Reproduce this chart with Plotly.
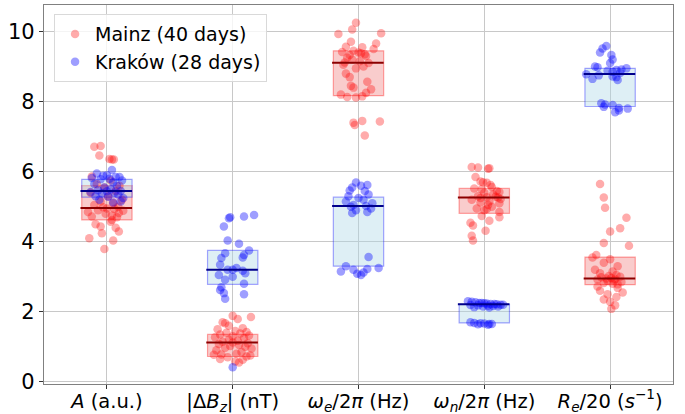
import plotly.graph_objects as go

categories = ["<i>A</i> (a.u.)", "|Δ<i>B<sub>z</sub></i>| (nT)", "<i>ω<sub>e</sub></i>/2<i>π</i> (Hz)",
              "<i>ω<sub>n</sub></i>/2<i>π</i> (Hz)", "<i>R<sub>e</sub></i>/20 (<i>s</i><sup>−1</sup>)"]
y_ticks = [0, 2, 4, 6, 8, 10]

# --- Mainz (40 days) values per category ---
mainz_A = [6.71, 6.73, 6.46, 6.36, 6.35, 6.35, 5.86, 5.75, 5.65, 5.6, 5.55, 5.45, 5.4, 5.3, 5.2, 5.15, 5.1, 5.05, 5.0, 4.98,
           4.95, 4.93, 4.9, 4.88, 4.85, 4.82, 4.8, 4.75, 4.72, 4.7, 4.62, 4.57, 4.5, 4.43, 4.4, 4.29, 4.24, 4.1, 4.03, 3.79]
mainz_dBz = [1.88, 1.85, 1.79, 1.7, 1.67, 1.6, 1.53, 1.5, 1.45, 1.42, 1.4, 1.38, 1.35, 1.32, 1.3, 1.27, 1.25, 1.2, 1.17, 1.14,
             1.12, 1.1, 1.08, 1.05, 1.02, 1.0, 0.97, 0.95, 0.9, 0.85, 0.8, 0.78, 0.77, 0.75, 0.72, 0.7, 0.65, 0.63, 0.58, 0.55]
mainz_we = [10.25, 10.06, 9.95, 9.93, 9.71, 9.66, 9.57, 9.55, 9.5, 9.45, 9.42, 9.4, 9.38, 9.35, 9.33, 9.3, 9.25, 9.2, 9.15, 9.12,
            9.1, 9.05, 9.0, 8.95, 8.8, 8.7, 8.57, 8.45, 8.4, 8.35, 8.25, 8.2, 8.15, 8.13, 8.12, 7.45, 7.43, 7.4, 7.33, 7.03]
mainz_wn = [6.13, 6.12, 6.1, 6.08, 5.85, 5.72, 5.7, 5.68, 5.62, 5.56, 5.52, 5.5, 5.45, 5.42, 5.4, 5.35, 5.3, 5.28, 5.27, 5.26,
            5.25, 5.22, 5.2, 5.15, 5.12, 5.1, 5.05, 5.0, 4.95, 4.93, 4.9, 4.85, 4.73, 4.7, 4.6, 4.54, 4.46, 4.31, 4.17, 4.03]
mainz_Re = [5.65, 5.26, 4.97, 4.68, 4.38, 4.29, 3.96, 3.88, 3.62, 3.55, 3.5, 3.4, 3.3, 3.2, 3.15, 3.1, 3.05, 3.02, 3.0, 2.98,
            2.96, 2.95, 2.93, 2.92, 2.9, 2.88, 2.85, 2.82, 2.8, 2.78, 2.72, 2.68, 2.6, 2.55, 2.5, 2.42, 2.35, 2.28, 2.18, 2.08]

# horizontal jitter (category units)
mainz_A_jit = [-0.10, -0.05, -0.06, 0.02, 0.04, 0.055, -0.12, 0.03, -0.08, 0.10, -0.02, 0.07, -0.13, 0.01, 0.12, -0.05, 0.05, -0.10, 0.09, -0.03,
               0.0, 0.06, -0.07, 0.13, -0.15, 0.095, -0.01, 0.04, -0.12, 0.08, 0.04, 0.03, -0.09, -0.05, 0.07, 0.095, -0.04, -0.14, 0.05, -0.02]
mainz_dBz_jit = [0.0, 0.145, 0.04, -0.08, -0.06, -0.03, 0.08, -0.12, 0.02, 0.11, -0.05, 0.06, -0.10, 0.13, 0.0, -0.14, 0.09, -0.03, 0.04, -0.08,
                 0.0, 0.12, -0.11, 0.05, -0.02, 0.1, -0.06, 0.15, -0.13, 0.07, 0.03, -0.09, -0.15, 0.14, 0.11, -0.04, -0.1, 0.08, 0.02, 0.05]
mainz_we_jit = [-0.02, -0.05, 0.18, -0.16, -0.06, 0.14, -0.1, 0.03, 0.12, -0.04, -0.13, 0.0, 0.02, 0.05, -0.07, 0.06, -0.09, -0.05, 0.01, -0.11,
                0.08, -0.12, 0.04, -0.02, -0.1, -0.07, 0.07, -0.06, -0.04, 0.1, 0.06, -0.14, 0.03, -0.09, -0.02, 0.03, 0.17, -0.04, -0.03, 0.05]
mainz_wn_jit = [-0.1, -0.05, 0.04, 0.03, -0.07, -0.03, -0.01, 0.02, 0.05, 0.06, -0.08, -0.02, 0.1, 0.12, 0.0, 0.07, -0.05, 0.09, 0.02, 0.11,
                -0.03, 0.13, -0.1, 0.04, -0.03, 0.12, 0.03, 0.06, -0.06, 0.02, 0.0, 0.12, -0.02, 0.12, 0.04, -0.11, -0.09, 0.01, -0.1, -0.09]
mainz_Re_jit = [-0.08, -0.05, -0.04, 0.13, 0.08, 0.0, -0.05, 0.15, -0.11, -0.14, 0.0, -0.05, 0.06, -0.12, 0.02, -0.08, 0.05, -0.01, 0.08, -0.07,
                0.01, -0.03, 0.04, -0.1, 0.03, -0.02, 0.09, -0.05, 0.02, 0.06, -0.1, 0.06, -0.08, 0.1, -0.02, 0.05, -0.05, 0.0, 0.04, 0.01]

# --- Kraków (28 days) values per category ---
krakow_A = [6.05, 5.95, 5.9, 5.88, 5.85, 5.85, 5.82, 5.8, 5.78, 5.75, 5.7, 5.65, 5.6, 5.55,
            5.5, 5.47, 5.45, 5.44, 5.42, 5.4, 5.38, 5.35, 5.3, 5.28, 5.25, 5.2, 5.15, 5.12]
krakow_dBz = [4.76, 4.72, 4.70, 4.67, 4.43, 4.03, 3.94, 3.75, 3.67, 3.62, 3.55, 3.53, 0.41, 3.34,
              3.25, 3.2, 3.2, 3.17, 3.1, 3.05, 3.0, 2.91, 2.8, 2.7, 2.62, 2.53, 2.5, 2.37]
krakow_we = [5.69, 5.62, 5.6, 5.55, 5.46, 5.45, 5.35, 5.3, 5.25, 5.2, 5.15, 5.1, 5.05, 5.02,
             5.0, 4.95, 4.9, 4.85, 4.82, 3.56, 3.3, 3.25, 3.22, 3.2, 3.15, 3.12, 3.08, 3.05]
krakow_wn = [2.3, 2.28, 2.27, 2.25, 2.25, 2.24, 2.23, 2.22, 2.22, 2.21, 2.2, 2.2, 2.19, 2.18,
             2.17, 2.16, 2.15, 2.15, 2.13, 2.12, 1.7, 1.68, 1.67, 1.66, 1.65, 1.65, 1.64, 1.63]
krakow_Re = [9.59, 9.52, 9.4, 9.33, 9.2, 9.1, 9.0, 8.98, 8.95, 8.92, 8.9, 8.88, 8.85, 8.82,
             8.78, 8.75, 8.72, 8.7, 8.65, 8.62, 7.95, 7.92, 7.9, 7.85, 7.82, 7.8, 7.75, 7.7]

krakow_A_jit = [0.04, -0.08, 0.0, -0.03, 0.10, 0.07, -0.12, 0.02, -0.05, 0.12, 0.05, -0.10, 0.08, -0.02,
                0.03, -0.07, 0.11, 0.0, -0.13, 0.06, -0.04, 0.09, -0.09, 0.01, 0.13, -0.06, 0.11, 0.05]
krakow_dBz_jit = [0.17, 0.09, -0.02, -0.03, -0.07, -0.04, 0.05, 0.13, -0.06, 0.09, 0.08, -0.09, 0.0, -0.1,
                  0.03, -0.04, 0.0, 0.08, 0.1, -0.11, 0.0, -0.06, 0.09, -0.09, -0.1, -0.07, 0.09, -0.06]
krakow_we_jit = [-0.02, 0.07, 0.02, -0.05, -0.07, 0.05, 0.08, -0.08, 0.0, 0.04, -0.1, 0.11, -0.04, 0.06,
                 -0.06, 0.1, -0.02, 0.07, -0.05, 0.08, -0.1, 0.16, 0.07, -0.04, -0.14, 0.04, -0.01, 0.02]
krakow_wn_jit = [-0.13, -0.1, -0.07, -0.04, -0.02, 0.0, 0.02, 0.05, 0.08, 0.1, 0.13, 0.15, -0.11, -0.05,
                 0.03, 0.07, -0.01, 0.11, -0.08, 0.04, -0.11, -0.08, -0.03, 0.0, 0.04, 0.06, -0.05, 0.03]
krakow_Re_jit = [-0.03, -0.06, -0.08, 0.01, 0.02, 0.0, -0.12, -0.1, 0.13, 0.09, 0.05, -0.02, 0.02, 0.08,
                 -0.19, -0.09, 0.02, 0.05, -0.14, 0.06, -0.07, -0.04, 0.02, -0.05, 0.07, 0.14, 0.07, 0.04]

# box statistics (lower edge, central line, upper edge)
mainz_q1 = [4.62, 0.72, 8.17, 4.81, 2.77]
mainz_mid = [4.96, 1.12, 9.11, 5.26, 2.95]
mainz_q3 = [5.60, 1.35, 9.45, 5.52, 3.56]
krakow_q1 = [5.27, 2.78, 3.30, 1.68, 7.86]
krakow_mid = [5.45, 3.20, 5.02, 2.21, 8.79]
krakow_q3 = [5.78, 3.75, 5.27, 2.21, 8.95]

mainz_vals = [mainz_A, mainz_dBz, mainz_we, mainz_wn, mainz_Re]
mainz_jit = [mainz_A_jit, mainz_dBz_jit, mainz_we_jit, mainz_wn_jit, mainz_Re_jit]
krakow_vals = [krakow_A, krakow_dBz, krakow_we, krakow_wn, krakow_Re]
krakow_jit = [krakow_A_jit, krakow_dBz_jit, krakow_we_jit, krakow_wn_jit, krakow_Re_jit]

BOX_W = 0.4
pos = list(range(len(categories)))

fig = go.Figure()


def add_boxes(q1, q3, fill, edge):
    fig.add_trace(go.Bar(
        x=pos, base=q1, y=[b - a for a, b in zip(q1, q3)], width=BOX_W,
        marker=dict(color=fill, line=dict(color=edge, width=1.2)),
        showlegend=False, hoverinfo="skip"))


def add_points(vals, jit, color, name):
    xs, ys = [], []
    for i, (v, j) in enumerate(zip(vals, jit)):
        xs += [i + d for d in j]
        ys += v
    fig.add_trace(go.Scatter(x=xs, y=ys, mode="markers", name=name,
                             marker=dict(color=color, size=8.5, line=dict(width=0))))


def add_mid(mid, color):
    xs, ys = [], []
    for i, m in enumerate(mid):
        xs += [i - BOX_W / 2 - 0.01, i + BOX_W / 2, None]
        ys += [m, m, None]
    fig.add_trace(go.Scatter(x=xs, y=ys, mode="lines", line=dict(color=color, width=2),
                             showlegend=False, hoverinfo="skip"))


add_boxes(mainz_q1, mainz_q3, "rgba(240,128,128,0.4)", "rgba(255,0,0,0.35)")
add_boxes(krakow_q1, krakow_q3, "rgba(173,216,230,0.4)", "rgba(0,0,255,0.35)")
add_points(mainz_vals, mainz_jit, "rgba(255,0,0,0.33)", "Mainz (40 days)")
add_points(krakow_vals, krakow_jit, "rgba(0,0,255,0.38)", "Kraków (28 days)")
add_mid(mainz_mid, "#8b0000")
add_mid(krakow_mid, "#00008b")

fig.update_layout(
    width=685, height=414,
    margin=dict(l=44, r=12, t=5, b=30),
    barmode="overlay",
    plot_bgcolor="white", paper_bgcolor="white",
    font=dict(family="DejaVu Sans", size=18, color="black"),
    legend=dict(x=0.016, y=0.976, xanchor="left", yanchor="top",
                bgcolor="rgba(255,255,255,0.8)", bordercolor="#d9d9d9", borderwidth=1,
                font=dict(size=19), itemsizing="trace", tracegroupgap=2),
    showlegend=True,
)
fig.update_xaxes(range=[-0.5, 4.5], tickvals=pos, ticktext=categories, automargin=False,
                 ticklabelstandoff=-5,
                 showgrid=True, gridcolor="#c8c8c8", gridwidth=1,
                 showline=True, linecolor="#808080", linewidth=1.3, mirror=True,
                 ticks="outside", ticklen=4, tickcolor="#333", tickfont=dict(size=19.5), zeroline=False)
fig.update_yaxes(range=[-0.066, 10.76], tickvals=y_ticks, automargin=False,
                 showgrid=True, gridcolor="#c8c8c8", gridwidth=1,
                 showline=True, linecolor="#808080", linewidth=1.3, mirror=True,
                 ticks="outside", ticklen=4, tickcolor="#333", tickfont=dict(size=21), zeroline=False)

fig.write_html("out.html")
